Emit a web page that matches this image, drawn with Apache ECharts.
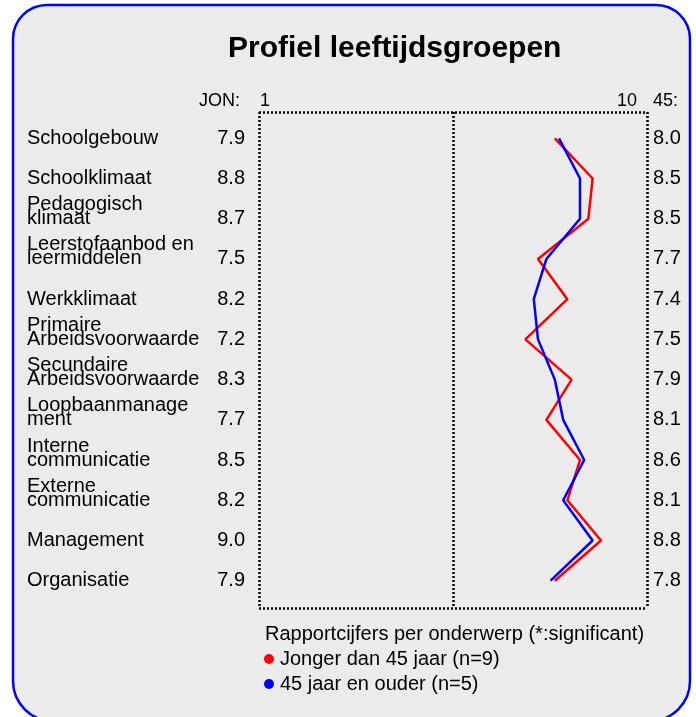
<!DOCTYPE html>
<html>
<head>
<meta charset="utf-8">
<script src="https://cdn.jsdelivr.net/npm/echarts@6/dist/echarts.min.js"></script>
<style>html,body{margin:0;padding:0;background:#fff;}#c{width:696px;height:717px;}</style>
</head>
<body>
<div id="c"></div>
<script>
const categories = ['Schoolgebouw', 'Schoolklimaat', 'Pedagogisch\nklimaat', 'Leerstofaanbod en\nleermiddelen', 'Werkklimaat', 'Primaire\nArbeidsvoorwaarde', 'Secundaire\nArbeidsvoorwaarde', 'Loopbaanmanage\nment', 'Interne\ncommunicatie', 'Externe\ncommunicatie', 'Management', 'Organisatie'];
const valuesYoung = [7.9, 8.8, 8.7, 7.5, 8.2, 7.2, 8.3, 7.7, 8.5, 8.2, 9.0, 7.9];
const valuesOld = [8.0, 8.5, 8.5, 7.7, 7.4, 7.5, 7.9, 8.1, 8.6, 8.1, 8.8, 7.8];
const tickValues = [1, 10];
const tickLabels = ['1', '10'];
const groupLabelLeft = 'JON:';
const groupLabelRight = '45:';
const seriesNames = ['Jonger dan 45 jaar (n=9)', '45 jaar en ouder (n=5)'];
const titleText = 'Profiel leeftijdsgroepen';
const legendTitle = 'Rapportcijfers per onderwerp (*:significant)';

const FONT = '"Liberation Sans", Arial, sans-serif';
const chart = echarts.init(document.getElementById('c'), null, {renderer: 'canvas'});
const dotted = {color: '#000', width: 2.5, type: [2, 2]};

const option = {
  animation: false,
  backgroundColor: '#ffffff',
  textStyle: {fontFamily: FONT},
  graphic: [
    {type: 'rect', z: -10, silent: true, shape: {x: 13, y: 5, width: 677, height: 716, r: [34, 34, 40, 40]},
     style: {fill: '#ebebeb', stroke: '#0000ff', lineWidth: 2.5}},
    {type: 'text', x: 240, y: 101, style: {text: groupLabelLeft, align: 'right', verticalAlign: 'middle', font: '18px ' + FONT, fill: '#000'}},
    {type: 'text', x: 653, y: 101, style: {text: groupLabelRight, align: 'left', verticalAlign: 'middle', font: '18px ' + FONT, fill: '#000'}}
  ],
  title: [
    {text: titleText, left: 228, top: 34, padding: 0, textStyle: {fontSize: 30, fontWeight: 'bold', color: '#000', fontFamily: FONT}},
    {text: legendTitle, left: 265, top: 624, padding: 0, textStyle: {fontSize: 20, fontWeight: 'normal', color: '#000', fontFamily: FONT}}
  ],
  legend: {
    orient: 'vertical', left: 264, top: 649, padding: 0, itemGap: 5,
    icon: 'circle', itemWidth: 10, itemHeight: 10,
    data: seriesNames,
    textStyle: {fontSize: 20, color: '#000', fontFamily: FONT, lineHeight: 20, padding: [0, 0, 0, 1]}
  },
  grid: [
    {left: 265, right: 53, top: 138.3, bottom: 136.3},
    {left: 259, right: 49, top: 112, bottom: 109}
  ],
  xAxis: [
    {gridIndex: 0, type: 'value', min: 1, max: 10, position: 'top',
     axisLine: {show: false}, axisTick: {show: false}, splitLine: {show: false},
     axisLabel: {customValues: tickValues, margin: 28, color: '#000',
       formatter: function (v) { const i = tickValues.indexOf(v); return i === 0 ? '{a|' + tickLabels[0] + '}' : '{b|' + tickLabels[1] + '}'; },
       rich: {a: {fontSize: 18, color: '#000', fontFamily: FONT}, b: {fontSize: 18, color: '#000', fontFamily: FONT, padding: [0, 32, 0, 0]}}}},
    {gridIndex: 1, type: 'value', min: 0, max: 2, interval: 1,
     axisLine: {show: false}, axisTick: {show: false}, axisLabel: {show: false},
     splitLine: {show: true, lineStyle: dotted}}
  ],
  yAxis: [
    {gridIndex: 0, type: 'category', data: categories, inverse: true, boundaryGap: false, position: 'left',
     axisLine: {show: false}, axisTick: {show: false}, splitLine: {show: false},
     axisLabel: {interval: 0, align: 'right', margin: 20, fontSize: 20, color: '#000', padding: [4, 0, 0, 0],
       formatter: function (v, i) { return valuesYoung[i].toFixed(1); }}},
    {gridIndex: 0, type: 'category', data: categories, inverse: true, boundaryGap: false, position: 'left', offset: 0,
     axisLine: {show: false}, axisTick: {show: false}, splitLine: {show: false},
     axisLabel: {interval: 0, align: 'left', margin: 238, fontSize: 20, lineHeight: 14, color: '#000', padding: [4, 0, 0, 0],
       formatter: function (v) { return v.indexOf('\n') >= 0 ? v + '\n ' : v; }}},
    {gridIndex: 0, type: 'category', data: categories, inverse: true, boundaryGap: false, position: 'right',
     axisLine: {show: false}, axisTick: {show: false}, splitLine: {show: false},
     axisLabel: {interval: 0, align: 'left', margin: 10, fontSize: 20, color: '#000', padding: [4, 0, 0, 0],
       formatter: function (v, i) { return valuesOld[i].toFixed(1); }}},
    {gridIndex: 1, type: 'value', min: 0, max: 1, interval: 1, inverse: true,
     axisLine: {show: false}, axisTick: {show: false}, axisLabel: {show: false},
     splitLine: {show: true, lineStyle: dotted}}
  ],
  series: [
    {name: seriesNames[0], type: 'line', xAxisIndex: 0, yAxisIndex: 0, showSymbol: false, symbol: 'none',
     color: '#ff0000', lineStyle: {color: '#ff0000', width: 2.5},
     data: valuesYoung.map(function (v, i) { return [v, categories[i]]; })},
    {name: seriesNames[1], type: 'line', xAxisIndex: 0, yAxisIndex: 0, showSymbol: false, symbol: 'none',
     color: '#0000ff', lineStyle: {color: '#0000ff', width: 2.5},
     data: valuesOld.map(function (v, i) { return [v, categories[i]]; })}
  ]
};
chart.setOption(option);
</script>
</body>
</html>
